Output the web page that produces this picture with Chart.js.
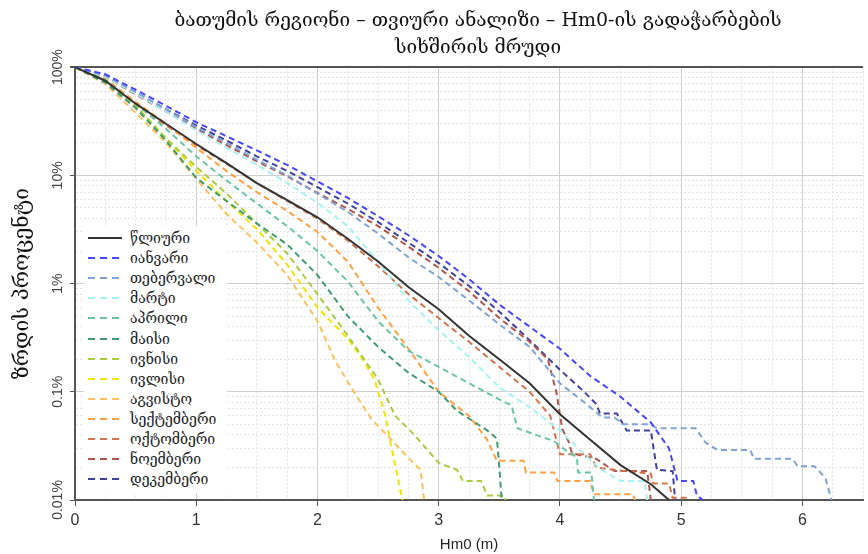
<!DOCTYPE html>
<html>
<head>
<meta charset="utf-8">
<script src="https://cdn.jsdelivr.net/npm/chart.js@4"></script>
<style>
  html, body { margin: 0; padding: 0; background: #fff; }
  #wrap { position: relative; width: 868px; height: 554px; }
  #legend { position: absolute; left: 84px; top: 226px; width: 143px; padding: 2px 0 4px 0; background: #fff;
            font-family: 'DejaVu Serif', 'DejaVu Sans', sans-serif; font-size: 14px; color: #222; }
  #legend .row { height: 20.1px; display: flex; align-items: center; white-space: nowrap; }
  #legend svg { margin-left: 4px; margin-right: 8px; flex: none; }
</style>
</head>
<body>
<div id="wrap">
  <canvas id="chart" width="868" height="554"></canvas>
  <div id="legend"></div>
</div>
<script>
// series names (legend order)
var seriesNames = ['წლიური', 'იანვარი', 'თებერვალი', 'მარტი', 'აპრილი', 'მაისი', 'ივნისი',
	'ივლისი', 'აგვისტო', 'სექტემბერი', 'ოქტომბერი', 'ნოემბერი', 'დეკემბერი']

// exceedance curves: [Hm0 (m), percent]
var annual = [[0,100],[0.25,75],[0.5,46],[0.75,30],[1,19.5],[1.25,13],[1.5,8.5],[1.75,5.9],[2,4.1],[2.25,2.6],[2.5,1.6],[2.75,0.93],[3,0.58],[3.25,0.33],[3.5,0.2],[3.75,0.12],[4,0.062],[4.25,0.036],[4.5,0.021],[4.75,0.014],[4.9,0.01]]
var jan = [[0,100],[0.25,86],[0.5,62],[0.75,44],[1,31],[1.25,23],[1.5,17],[1.75,12.5],[2,8.8],[2.25,6.2],[2.5,4.2],[2.75,2.8],[3,1.8],[3.25,1.1],[3.5,0.64],[3.75,0.4],[4,0.25],[4.25,0.14],[4.5,0.09],[4.75,0.052],[4.9,0.03],[4.97,0.015],[5.1,0.015],[5.13,0.011],[5.18,0.01]]
var feb = [[0,100],[0.25,84],[0.5,59],[0.75,41],[1,28],[1.25,20],[1.5,14],[1.75,10],[2,6.8],[2.25,4.6],[2.5,2.9],[2.75,1.75],[3,1.15],[3.25,0.7],[3.5,0.42],[3.75,0.26],[4,0.12],[4.2,0.08],[4.35,0.058],[4.45,0.058],[4.52,0.05],[4.75,0.05],[4.8,0.046],[5.12,0.046],[5.2,0.034],[5.3,0.029],[5.57,0.029],[5.6,0.024],[5.92,0.024],[5.96,0.0205],[6.1,0.0205],[6.19,0.016],[6.24,0.01]]
var mar = [[0,100],[0.25,82],[0.5,57],[0.75,39],[1,26],[1.25,18],[1.5,12.5],[1.75,8.5],[2,5.6],[2.25,3.4],[2.5,1.6],[2.75,0.7],[3,0.37],[3.25,0.21],[3.5,0.11],[3.75,0.072],[4,0.044],[4.15,0.03],[4.33,0.0195],[4.5,0.015],[4.7,0.015],[4.72,0.01]]
var apr = [[0,100],[0.25,76],[0.5,46],[0.75,27],[1,15],[1.25,9],[1.5,5.5],[1.75,3.4],[2,2.0],[2.25,1.05],[2.5,0.45],[2.75,0.24],[3,0.17],[3.25,0.12],[3.5,0.085],[3.6,0.075],[3.65,0.046],[3.95,0.035],[4.08,0.027],[4.14,0.025],[4.15,0.018],[4.26,0.018],[4.28,0.01]]
var may = [[0,100],[0.25,72],[0.5,42],[0.75,21],[1,9.5],[1.25,5.8],[1.5,3.6],[1.75,2.3],[2,1.2],[2.25,0.5],[2.5,0.26],[2.75,0.15],[3,0.1],[3.15,0.067],[3.4,0.044],[3.48,0.037],[3.5,0.02],[3.52,0.01]]
var jun = [[0,100],[0.25,76],[0.5,44],[0.75,22],[1,12],[1.25,6.8],[1.5,3.6],[1.75,1.9],[2,0.8],[2.25,0.33],[2.5,0.13],[2.64,0.06],[2.8,0.04],[3,0.022],[3.15,0.019],[3.2,0.015],[3.35,0.015],[3.4,0.011],[3.54,0.011],[3.55,0.01]]
var jul = [[0,100],[0.25,76],[0.5,44],[0.75,22],[1,11],[1.25,5.8],[1.5,3.2],[1.75,1.5],[2,0.6],[2.25,0.31],[2.36,0.21],[2.47,0.13],[2.56,0.06],[2.6,0.035],[2.65,0.019],[2.7,0.01]]
var aug = [[0,100],[0.25,70],[0.5,38],[0.75,20],[1,9.3],[1.25,4.4],[1.5,2.4],[1.75,1.2],[2,0.45],[2.15,0.19],[2.3,0.1],[2.45,0.055],[2.6,0.037],[2.7,0.028],[2.85,0.019],[2.88,0.01]]
var sep = [[0,100],[0.25,78],[0.5,48],[0.75,30],[1,18],[1.25,11],[1.5,7],[1.75,4.7],[2,3.0],[2.25,1.6],[2.5,0.6],[2.75,0.25],[3,0.1],[3.25,0.06],[3.4,0.036],[3.48,0.023],[3.7,0.023],[3.72,0.018],[3.95,0.018],[3.98,0.015],[4.25,0.015],[4.28,0.0113],[4.6,0.0113],[4.62,0.01]]
var oct = [[0,100],[0.25,74],[0.5,45],[0.75,29],[1,19],[1.25,12.8],[1.5,8.5],[1.75,5.8],[2,4.0],[2.25,2.5],[2.5,1.45],[2.75,0.8],[3,0.48],[3.25,0.29],[3.5,0.17],[3.75,0.1],[3.92,0.06],[4,0.0265],[4.25,0.0265],[4.3,0.02],[4.45,0.019],[4.75,0.0175],[4.77,0.0142],[4.9,0.0142],[4.93,0.0105],[5.04,0.0105],[5.06,0.01]]
var nov = [[0,100],[0.25,82],[0.5,56],[0.75,39],[1,27],[1.25,19],[1.5,13.5],[1.75,9.8],[2,6.9],[2.25,4.9],[2.5,3.4],[2.75,2.2],[3,1.4],[3.25,0.85],[3.5,0.48],[3.75,0.29],[3.9,0.2],[3.97,0.1],[4.02,0.045],[4.07,0.035],[4.1,0.027],[4.3,0.024],[4.45,0.0185],[4.72,0.0185],[4.75,0.01]]
var dec = [[0,100],[0.25,84],[0.5,58],[0.75,41],[1,29],[1.25,21],[1.5,15],[1.75,11],[2,7.8],[2.25,5.5],[2.5,3.7],[2.75,2.4],[3,1.55],[3.25,0.95],[3.5,0.55],[3.75,0.3],[4,0.16],[4.2,0.1],[4.3,0.077],[4.33,0.063],[4.47,0.063],[4.55,0.044],[4.75,0.044],[4.8,0.019],[4.93,0.0185],[4.95,0.01]]

var seriesData = [annual, jan, feb, mar, apr, may, jun, jul, aug, sep, oct, nov, dec]

// tick labels
var xTickLabels = ['0', '1', '2', '3', '4', '5', '6']
var yDecades = [0.01, 0.1, 1, 10, 100]
var yTickLabels = ['0.01%', '0.1%', '1%', '10%', '100%']

// styles
var seriesColors = ['#333333', '#4646ff', '#7fa3d3', '#a6f2f2', '#6cc4a6', '#3f9c70', '#a8cd3c',
	'#f1e400', '#ffc060', '#ffa040', '#d2744c', '#b2544c', '#40409e']
var fontSans = "'Liberation Sans', 'DejaVu Sans', sans-serif"
var fontGeo = "'DejaVu Serif', 'DejaVu Sans', sans-serif"

// grid positions
var xGrid = []
for (var i = 0; i <= 26; i++) xGrid.push(i * 0.25)
var yGrid = []
for (var e = -2; e <= 1; e++) {
	for (var m = 1; m <= 9; m++) yGrid.push(parseFloat((m * Math.pow(10, e)).toPrecision(3)))
}
yGrid.push(100)

function isDecade (v) {
	var l = Math.log10(v)
	return Math.abs(l - Math.round(l)) < 1e-9
}

var datasets = seriesData.map(function (d, i) {
	return {
		label: seriesNames[i],
		data: d,
		borderColor: seriesColors[i],
		backgroundColor: seriesColors[i],
		borderWidth: 2,
		borderDash: i === 0 ? [] : [6, 4],
		pointRadius: 0,
		tension: 0,
		fill: false
	}
})

// legend
var legendEl = document.getElementById('legend')
seriesNames.forEach(function (name, i) {
	var dash = i === 0 ? '' : ' stroke-dasharray="7 5"'
	legendEl.insertAdjacentHTML('beforeend',
		'<div class="row"><svg width="34" height="4"><line x1="0" y1="2" x2="34" y2="2" stroke="' +
		seriesColors[i] + '" stroke-width="2"' + dash + '/></svg><span>' + name + '</span></div>')
})

var ctx = document.getElementById('chart').getContext('2d')
var chart = new Chart(ctx, {
	type: 'line',
	data: { datasets: datasets },
	options: {
		responsive: false,
		animation: false,
		layout: { padding: { left: 0, right: 0, top: 0, bottom: 0 } },
		plugins: {
			legend: { display: false },
			tooltip: { enabled: false },
			title: {
				display: true,
				fullSize: false,
				text: ['   ბათუმის რეგიონი – თვიური ანალიზი – Hm0-ის გადაჭარბების', '   სიხშირის მრუდი'],
				color: '#111',
				font: { family: fontGeo, size: 19, weight: 'normal', lineHeight: 1.4 },
				padding: { top: 8, bottom: 6 }
			}
		},
		scales: {
			x: {
				type: 'linear',
				min: 0,
				max: 6.5,
				afterBuildTicks: function (s) { s.ticks = xGrid.map(function (v) { return { value: v } }) },
				afterFit: function (s) { s.height = 54 },
				ticks: {
					autoSkip: false,
					maxRotation: 0,
					color: '#333',
					font: { family: fontSans, size: 16 },
					padding: 5,
					callback: function (v) { return Number.isInteger(v) ? xTickLabels[v] : '' }
				},
				grid: {
					color: function (c) { return c.tick && Number.isInteger(c.tick.value) ? '#cfcfcf' : '#e4e4e4' },
					tickColor: function (c) { return c.tick && Number.isInteger(c.tick.value) ? '#555' : 'rgba(0,0,0,0)' },
					tickLength: 6
				},
				border: {
					color: '#555',
					width: 2,
					dash: function (c) { return c.tick && !Number.isInteger(c.tick.value) ? [2, 2] : [] }
				},
				title: {
					display: true,
					text: 'Hm0 (m)',
					color: '#222',
					font: { family: fontSans, size: 15 },
					padding: { top: 0, bottom: 0 }
				}
			},
			y: {
				type: 'logarithmic',
				min: 0.01,
				max: 100,
				afterBuildTicks: function (s) { s.ticks = yGrid.map(function (v) { return { value: v } }) },
				afterFit: function (s) { s.width = 75 },
				ticks: {
					autoSkip: false,
					minRotation: 90,
					maxRotation: 90,
					crossAlign: 'center',
					color: '#444',
					font: { family: fontSans, size: 14 },
					padding: -8,
					callback: function (v) {
						for (var k = 0; k < yDecades.length; k++) {
							if (Math.abs(v - yDecades[k]) / yDecades[k] < 1e-6) return yTickLabels[k]
						}
						return ''
					}
				},
				grid: {
					color: function (c) {
						if (!c.tick) return '#cfcfcf'
						if (c.tick.value === 100) return '#555'
						return isDecade(c.tick.value) ? '#cfcfcf' : '#e4e4e4'
					},
					lineWidth: function (c) { return c.tick && c.tick.value === 100 ? 2 : 1 },
					tickColor: function (c) { return c.tick && isDecade(c.tick.value) ? '#555' : 'rgba(0,0,0,0)' },
					tickLength: 5
				},
				border: {
					color: '#555',
					width: 2,
					dash: function (c) { return c.tick && !isDecade(c.tick.value) ? [2, 2] : [] }
				},
				title: {
					display: true,
					text: 'ზრდის პროცენტი',
					color: '#111',
					font: { family: fontGeo, size: 21 },
					padding: { top: 10, bottom: 0 }
				}
			}
		}
	}
})
</script>
</body>
</html>
